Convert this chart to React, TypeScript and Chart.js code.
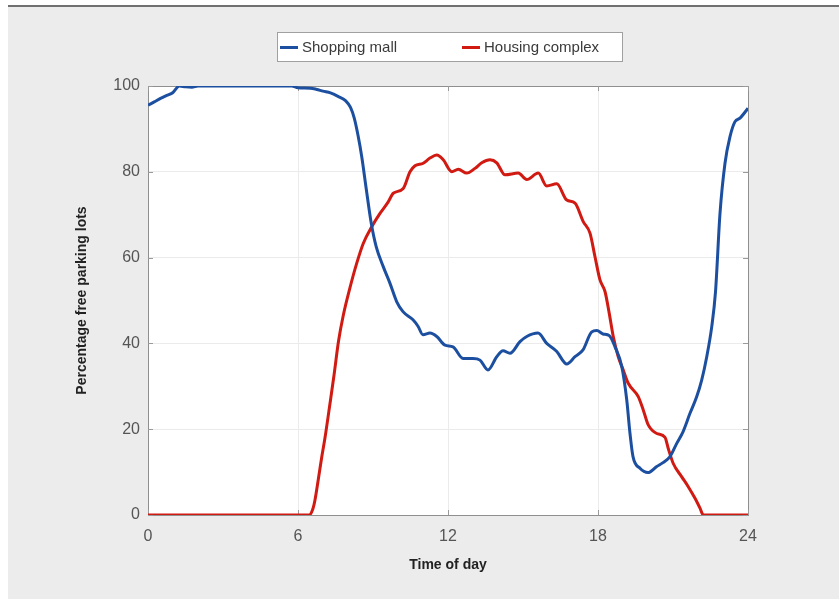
import React, { useEffect, useRef } from "react";
import { Chart, registerables } from "chart.js";

Chart.register(...registerables);

// Shopping mall: hour of day, percentage of free parking lots
const mallHours = [
  0, 0.25, 0.5, 0.75, 1.0, 1.25, 1.5, 1.75, 2, 3, 4, 5, 5.75, 6.0, 6.5, 6.75, 7.0, 7.3, 7.6, 7.9, 8.1,
  8.25, 8.4, 8.55, 8.73, 8.93, 9.13, 9.41, 9.68, 9.95, 10.2, 10.6, 10.8, 11.0, 11.28, 11.55, 11.88,
  12.2, 12.6, 13.0, 13.28, 13.6, 13.95, 14.2, 14.48, 14.88, 15.15, 15.6, 15.95, 16.35, 16.75, 17.08,
  17.4, 17.75, 17.95, 18.2, 18.45, 18.68, 18.95, 19.15, 19.28, 19.4, 19.68, 20.0, 20.35, 20.6, 20.88,
  21.15, 21.4, 21.68, 21.95, 22.15, 22.35, 22.55, 22.7, 22.88, 23.08, 23.28, 23.48, 23.68, 24,
];
const mallValues = [
  95.5, 96.3, 97.1, 97.8, 98.5, 100, 99.8, 99.7, 100, 100, 100, 100, 100, 99.6, 99.5, 99.2, 98.8, 98.4,
  97.6, 96.6, 95.0, 92.5, 88.5, 83.5, 76.0, 68.0, 62.5, 57.9, 54.0, 49.7, 47.4, 45.5, 44, 42.0, 42.4, 41.6,
  39.6, 39.2, 36.5, 36.5, 36.1, 33.8, 36.9, 38.3, 37.7, 40.4, 41.6, 42.4, 40.0, 38.1, 35.2, 36.9, 38.5,
  42.7, 43.0, 42.2, 41.8, 39.2, 34.6, 26.8, 19.0, 13.6, 10.9, 9.9, 11.3, 12.2, 13.6, 16.7, 19.4, 23.7,
  27.6, 31.5, 36.9, 43.9, 52, 70.3, 82.0, 88.2, 91.7, 92.5, 94.8,
];

// Housing complex: hour of day, percentage of free parking lots
const housingHours = [
  0, 6.45, 6.6, 6.68, 6.81, 6.95, 7.08, 7.28, 7.45, 7.62, 7.81, 8.08, 8.35, 8.61, 8.95, 9.28, 9.61, 9.81,
  10.21, 10.48, 10.68, 11.01, 11.28, 11.55, 11.81, 12.15, 12.41, 12.75, 13.08, 13.35, 13.68, 13.95,
  14.28, 14.81, 15.15, 15.61, 15.95, 16.35, 16.75, 17.08, 17.41, 17.68, 17.88, 18.08, 18.28, 18.45,
  18.61, 18.81, 19.01, 19.21, 19.61, 19.81, 20.01, 20.35, 20.68, 20.81, 21.01, 21.35, 21.61, 21.88,
  22.08, 22.21, 24,
];
const housingValues = [
  0, 0, 1.5, 3.5, 8.2, 13.5, 18, 26, 33, 40.5, 46.5, 53, 58.7, 63.3, 67.2, 70.3, 73.0, 75.0, 76.1, 80.0,
  81.4, 82.0, 83.2, 83.9, 82.8, 80.0, 80.6, 79.7, 80.8, 82.1, 82.8, 82.1, 79.3, 79.7, 78.2, 79.7, 76.7,
  77.2, 73.4, 72.7, 68.4, 65.7, 60.2, 54.8, 52.1, 47.0, 41.6, 36.9, 33.8, 30.7, 27.6, 24.5, 21.0, 19.0,
  18.1, 15.5, 12.0, 8.9, 6.6, 3.9, 1.6, 0, 0,
];

const seriesLabels = ["Shopping mall", "Housing complex"];
const seriesColors = ["#1c4fa0", "#d01a12"];
const xTickValues = [0, 6, 12, 18, 24];
const yTickValues = [0, 20, 40, 60, 80, 100];
const xTitle = "Time of day";
const yTitle = "Percentage free parking lots";

const FONT = "'Liberation Sans', Arial, Helvetica, sans-serif";

const framePlugin = {
  id: "frame",
  beforeDraw(chart: any) {
    const { ctx, chartArea: a } = chart;
    ctx.save();
    ctx.fillStyle = "#ffffff";
    ctx.fillRect(a.left, a.top, a.right - a.left, a.bottom - a.top);
    ctx.restore();
  },
  beforeDatasetsDraw(chart: any) {
    const { ctx, chartArea: a, scales } = chart;
    ctx.save();
    ctx.strokeStyle = "#8f8f8f";
    ctx.lineWidth = 1;
    ctx.strokeRect(Math.round(a.left) + 0.5, Math.round(a.top) + 0.5, Math.round(a.right - a.left), Math.round(a.bottom - a.top));
    ctx.strokeStyle = "#9a9a9a";
    const len = 5;
    ctx.beginPath();
    xTickValues.forEach((v) => {
      const x = Math.round(scales.x.getPixelForValue(v)) + 0.5;
      ctx.moveTo(x, a.bottom);
      ctx.lineTo(x, a.bottom - len);
      ctx.moveTo(x, a.top);
      ctx.lineTo(x, a.top + len);
    });
    yTickValues.forEach((v) => {
      const y = Math.round(scales.y.getPixelForValue(v)) + 0.5;
      ctx.moveTo(a.left, y);
      ctx.lineTo(a.left + len, y);
      ctx.moveTo(a.right, y);
      ctx.lineTo(a.right - len, y);
    });
    ctx.stroke();
    ctx.restore();
  },
  afterDraw(chart: any) {
    const { ctx, chartArea: a } = chart;
    const cx = (a.left + a.right) / 2 + 1.5;
    const boxW = 345;
    const boxH = 29;
    const left = Math.round(cx - boxW / 2);
    const top = 25;
    ctx.save();
    ctx.fillStyle = "#ffffff";
    ctx.fillRect(left, top, boxW, boxH);
    ctx.strokeStyle = "#a0a0a0";
    ctx.lineWidth = 1;
    ctx.strokeRect(left + 0.5, top + 0.5, boxW, boxH);
    const offsets = [3, 185];
    ctx.font = `15px ${FONT}`;
    ctx.textBaseline = "middle";
    chart.data.datasets.forEach((ds: any, i: number) => {
      const x0 = left + offsets[i];
      const y = top + boxH / 2 + 1;
      ctx.fillStyle = ds.borderColor;
      ctx.fillRect(x0, y - 1.5, 18, 3);
      ctx.fillStyle = "#3a3a3a";
      ctx.fillText(ds.label, x0 + 22, y);
    });
    ctx.restore();
  },
};

export default function App() {
  const ref = useRef<HTMLCanvasElement | null>(null);

  useEffect(() => {
    if (!ref.current) return;
    const chart = new Chart(ref.current, {
      type: "line",
      data: {
        datasets: [
          {
            label: seriesLabels[0],
            data: mallHours.map((h, i) => ({ x: h, y: mallValues[i] })),
            borderColor: seriesColors[0],
            backgroundColor: seriesColors[0],
            borderWidth: 3,
            pointRadius: 0,
            cubicInterpolationMode: "monotone",
            fill: false,
          },
          {
            label: seriesLabels[1],
            data: housingHours.map((h, i) => ({ x: h, y: housingValues[i] })),
            borderColor: seriesColors[1],
            backgroundColor: seriesColors[1],
            borderWidth: 3,
            pointRadius: 0,
            cubicInterpolationMode: "monotone",
            fill: false,
          },
        ],
      },
      options: {
        responsive: false,
        animation: false,
        devicePixelRatio: 1,
        layout: { padding: { left: 0, top: 79, right: 91, bottom: 0 } },
        plugins: { legend: { display: false }, tooltip: { enabled: false } },
        scales: {
          x: {
            type: "linear",
            min: 0,
            max: 24,
            afterBuildTicks: (s: any) => {
              s.ticks = xTickValues.map((v) => ({ value: v }));
            },
            afterFit: (s: any) => {
              s.height = 84;
            },
            grid: { color: "#ebebeb", drawTicks: false },
            border: { display: false },
            ticks: { padding: 12, color: "#555555", font: { family: FONT, size: 16 } },
            title: {
              display: true,
              text: xTitle,
              color: "#222222",
              font: { family: FONT, size: 14, weight: "bold" },
              padding: { top: 0, bottom: 25 },
            },
          },
          y: {
            type: "linear",
            min: 0,
            max: 100,
            afterBuildTicks: (s: any) => {
              s.ticks = yTickValues.map((v) => ({ value: v }));
            },
            afterFit: (s: any) => {
              s.width = 140;
            },
            grid: { color: "#ebebeb", drawTicks: false },
            border: { display: false },
            ticks: { padding: 8, color: "#555555", font: { family: FONT, size: 16 } },
            title: {
              display: true,
              text: yTitle,
              color: "#222222",
              font: { family: FONT, size: 14, weight: "bold" },
              padding: { top: 66, bottom: 0 },
            },
          },
        },
      },
      plugins: [framePlugin],
    } as any);
    return () => chart.destroy();
  }, []);

  return (
    <div style={{ position: "fixed", left: 0, top: 0, width: 839, height: 599, background: "#ffffff", overflow: "hidden" }}>
      <div
        style={{
          position: "absolute",
          left: 8,
          top: 5,
          width: 831,
          height: 594,
          background: "#ececec",
          borderTop: "2px solid #707070",
          boxSizing: "border-box",
        }}
      >
        <canvas ref={ref} width={831} height={592} style={{ position: "absolute", left: 0, top: 0, width: 831, height: 592 }} />
      </div>
    </div>
  );
}
